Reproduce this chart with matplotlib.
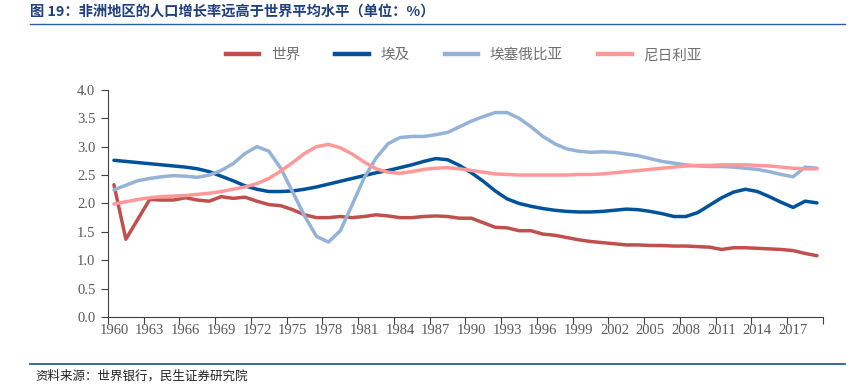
import matplotlib
matplotlib.use("Agg")
import matplotlib.pyplot as plt
from matplotlib.lines import Line2D
from matplotlib.ticker import FixedLocator, MultipleLocator

plt.rcParams["font.family"] = ["Noto Sans CJK SC", "DejaVu Sans"]

# 1960-2019 population growth (annual %)
years = list(range(1960, 2020))

world = [
    2.33, 1.37, 1.72, 2.07, 2.06, 2.06, 2.10, 2.06, 2.04, 2.12,
    2.09, 2.11, 2.04, 1.98, 1.96, 1.89, 1.80, 1.75, 1.75, 1.77,
    1.75, 1.77, 1.80, 1.78, 1.75, 1.75, 1.77, 1.78, 1.77, 1.74,
    1.74, 1.66, 1.58, 1.57, 1.52, 1.52, 1.46, 1.44, 1.40, 1.36,
    1.33, 1.31, 1.29, 1.27, 1.27, 1.26, 1.26, 1.25, 1.25, 1.24,
    1.23, 1.19, 1.22, 1.22, 1.21, 1.20, 1.19, 1.17, 1.12, 1.08,
]

egypt = [
    2.76, 2.74, 2.72, 2.70, 2.68, 2.66, 2.64, 2.61, 2.56, 2.48,
    2.40, 2.31, 2.25, 2.21, 2.21, 2.22, 2.25, 2.29, 2.34, 2.39,
    2.44, 2.49, 2.54, 2.58, 2.63, 2.68, 2.74, 2.79, 2.77, 2.67,
    2.54, 2.39, 2.22, 2.08, 2.00, 1.95, 1.91, 1.88, 1.86, 1.85,
    1.85, 1.86, 1.88, 1.90, 1.89, 1.86, 1.82, 1.77, 1.77, 1.84,
    1.97, 2.10, 2.20, 2.25, 2.21, 2.12, 2.02, 1.93, 2.04, 2.01,
]

ethiopia = [
    2.24, 2.32, 2.40, 2.44, 2.47, 2.49, 2.48, 2.46, 2.50, 2.58,
    2.70, 2.88, 3.00, 2.92, 2.62, 2.20, 1.78, 1.42, 1.32, 1.52,
    1.98, 2.45, 2.80, 3.05, 3.16, 3.18, 3.18, 3.21, 3.25, 3.35,
    3.45, 3.53, 3.60, 3.60, 3.50, 3.35, 3.18, 3.05, 2.96, 2.92,
    2.90, 2.91, 2.90, 2.87, 2.84, 2.79, 2.74, 2.71, 2.68, 2.66,
    2.65, 2.65, 2.64, 2.62, 2.60, 2.56, 2.51, 2.47, 2.64, 2.62,
]

nigeria = [
    1.99, 2.03, 2.07, 2.10, 2.12, 2.13, 2.14, 2.16, 2.18, 2.21,
    2.25, 2.29, 2.35, 2.44, 2.57, 2.72, 2.88, 3.00, 3.04, 2.98,
    2.87, 2.73, 2.61, 2.55, 2.53, 2.56, 2.60, 2.62, 2.63, 2.61,
    2.58, 2.55, 2.52, 2.51, 2.50, 2.50, 2.50, 2.50, 2.50, 2.51,
    2.51, 2.52, 2.54, 2.56, 2.58, 2.60, 2.62, 2.64, 2.66, 2.67,
    2.67, 2.68, 2.68, 2.68, 2.67, 2.66, 2.64, 2.62, 2.61, 2.61,
]

series_names = ["世界", "埃及", "埃塞俄比亚", "尼日利亚"]
colors = ["#C0504D", "#00529B", "#95B3D7", "#FF9999"]
label_years = years[::3]

fig = plt.figure(figsize=(8.59, 3.89), dpi=100)
ax = fig.add_axes([0.1257, 0.185, 0.8323, 0.584])

for vals, name, c in zip([world, egypt, ethiopia, nigeria], series_names, colors):
    ax.plot(years, vals, color=c, lw=2.5, label=name, solid_capstyle="round")

ax.set_xlim(years[0] - 0.5, years[-1] + 0.5)
ax.set_ylim(0, 4.0)
ax.yaxis.set_major_locator(MultipleLocator(0.5))
ax.yaxis.set_major_formatter(plt.FuncFormatter(lambda v, p: f"{v:.1f}"))

ax.set_xticks(label_years)
ax.set_xticklabels([str(y) for y in label_years])
ax.tick_params(axis="x", which="major", length=0, pad=5)
ax.xaxis.set_minor_locator(FixedLocator([y - 0.5 for y in years[::3]] + [years[-1] + 0.5]))
ax.tick_params(axis="x", which="minor", length=5, color="#404040", width=0.8)
ax.tick_params(axis="y", length=5, color="#404040", width=0.8, pad=4)

for lab in ax.get_xticklabels() + ax.get_yticklabels():
    lab.set_fontfamily("Liberation Serif")
    lab.set_fontsize(10.5)
    lab.set_color("#595959")

for s in ["top", "right"]:
    ax.spines[s].set_visible(False)
for s in ["left", "bottom"]:
    ax.spines[s].set_color("#404040")
    ax.spines[s].set_linewidth(0.8)

handles = [Line2D([], [], color=c, lw=3.2) for c in colors]
fig.legend(handles, series_names, loc="center", bbox_to_anchor=(0.54, 0.858),
           ncol=4, frameon=False, fontsize=10.5, handlelength=2.3,
           handletextpad=0.8, columnspacing=2.4, labelcolor="#707070")

title_color = "#1F3F7F"
fig.text(0.035, 0.969, "图 19：非洲地区的人口增长率远高于世界平均水平（单位：%）",
         fontsize=10.3, fontweight="bold", color=title_color, va="center", ha="left")
fig.add_artist(Line2D([0.035, 0.984], [0.938, 0.938], color="#2E5C9A", lw=1.0,
                      transform=fig.transFigure))
fig.add_artist(Line2D([0.035, 0.984], [0.064, 0.064], color="#2E5C9A", lw=1.3,
                      transform=fig.transFigure))
fig.text(0.041, 0.033, "资料来源：世界银行，民生证券研究院", fontsize=9,
         color="#222222", va="center", ha="left")

fig.savefig("out.png", dpi=100)
